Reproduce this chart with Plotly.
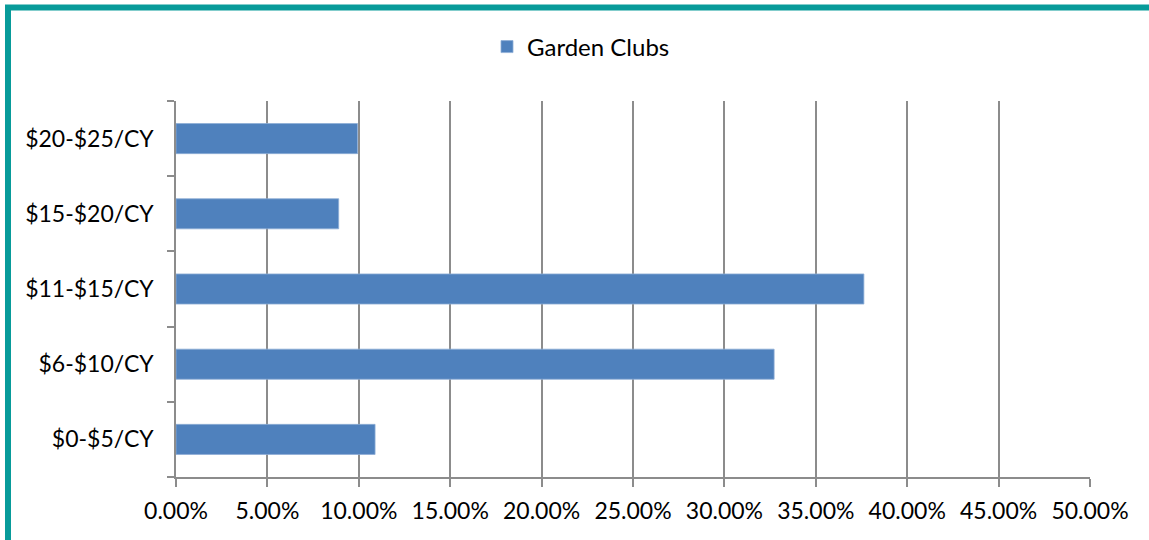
import plotly.graph_objects as go

categories = ["$0-$5/CY", "$6-$10/CY", "$11-$15/CY", "$15-$20/CY", "$20-$25/CY"]
garden_clubs = [0.1089, 0.3272, 0.3763, 0.0890, 0.0993]
x_ticks = [i * 0.05 for i in range(11)]
x_tick_labels = ["%.2f%%" % (v * 100) for v in x_ticks]

W, H = 1149, 540
L, R, T, B = 176, 59, 101, 63
pw, ph = W - L - R, H - T - B

def px_x(p):
    return (p - L) / pw

def px_y(p):
    return (H - B - p) / ph

fig = go.Figure()
fig.add_trace(go.Bar(
    y=categories, x=garden_clubs, orientation="h", name="Garden Clubs",
    marker=dict(color="#4F81BD", line=dict(color="#8EADD6", width=0.8)),
))

fig.update_layout(
    width=W, height=H,
    margin=dict(l=L, r=R, t=T, b=B, autoexpand=False),
    paper_bgcolor="white", plot_bgcolor="white",
    font=dict(family="Lato, Carlito, Calibri, sans-serif", size=23, color="#000000"),
    bargap=0.6,
    showlegend=True,
    legend=dict(orientation="h", x=px_x(487), xanchor="left", y=px_y(47), yanchor="middle",
                font=dict(size=24), bgcolor="rgba(0,0,0,0)"),
    xaxis=dict(range=[0, 0.5], tickvals=x_ticks, ticktext=x_tick_labels,
               showgrid=True, gridcolor="#8C8C8C", gridwidth=1.5,
               showline=True, linecolor="#8C8C8C", linewidth=1.5,
               ticks="outside", ticklen=8, tickcolor="#8C8C8C", tickwidth=1.5,
               zeroline=False, fixedrange=True, ticklabelstandoff=5),
    yaxis=dict(type="category", categoryorder="array", categoryarray=categories,
               showgrid=False, showline=True, linecolor="#8C8C8C", linewidth=1.5,
               ticks="outside", ticklen=7, tickcolor="#8C8C8C", tickwidth=1.5,
               tickson="boundaries", zeroline=False, fixedrange=True,
               ticklabelstandoff=16),
    shapes=[dict(type="rect", xref="paper", yref="paper",
                 x0=px_x(8), x1=px_x(1170), y0=px_y(560), y1=px_y(7.5),
                 line=dict(color="#089B9A", width=6), fillcolor="rgba(0,0,0,0)",
                 layer="above")],
)

fig.write_html("out.html", config={"displayModeBar": False},
               post_script="document.body.style.margin='0';document.body.style.overflow='hidden';")
